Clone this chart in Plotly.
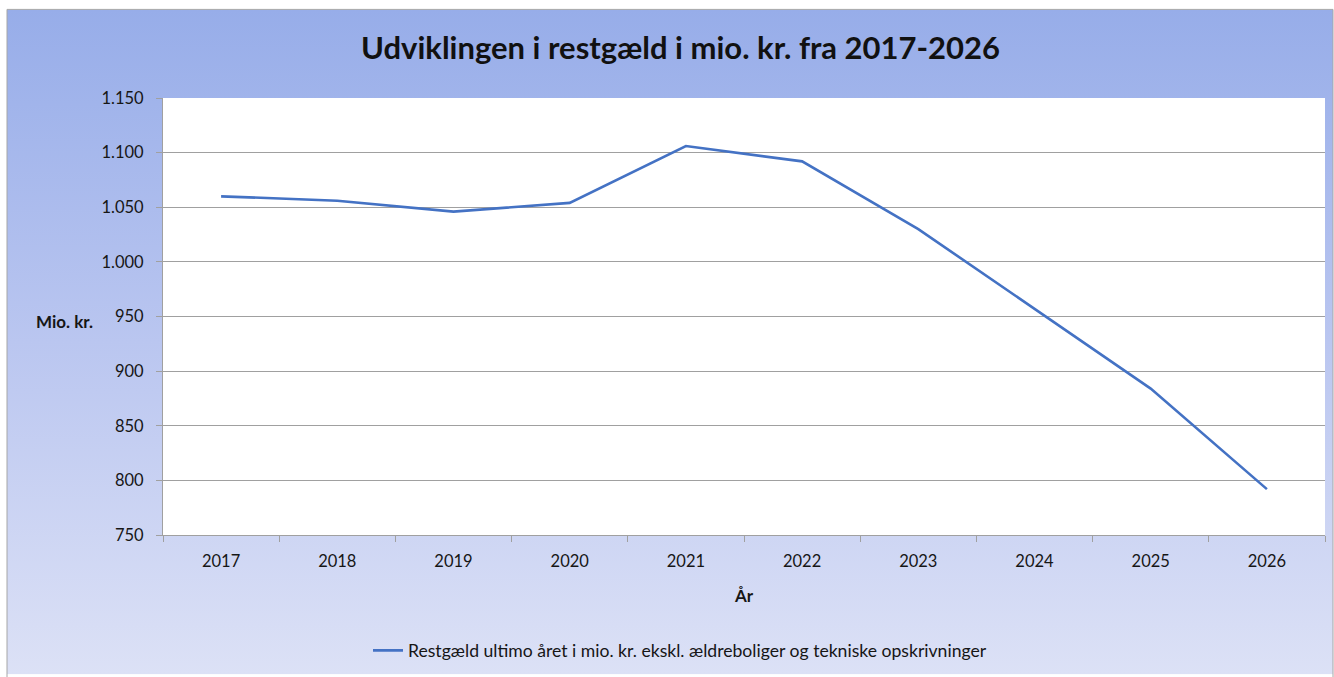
import base64
import plotly.graph_objects as go

years = ["2017", "2018", "2019", "2020", "2021", "2022", "2023", "2024", "2025", "2026"]
restgaeld = [1060, 1056, 1046, 1054, 1106, 1092, 1030, 957, 884, 792]
series_name = "Restgæld ultimo året i mio. kr. ekskl. ældreboliger og tekniske opskrivninger"
title_text = "Udviklingen i restgæld i mio. kr. fra 2017-2026"
y_ticks = [750, 800, 850, 900, 950, 1000, 1050, 1100, 1150]

W, H = 1334, 677
L, R, T, B = 163, 9, 98, 140
pw = W - L - R
ph = H - T - B

def px_x(px):
    return (px - L) / pw

def px_y(py):
    return (H - B - py) / ph

svg = (
    '<svg xmlns="http://www.w3.org/2000/svg" width="100" height="100" viewBox="0 0 100 100" preserveAspectRatio="none">'
    '<defs><linearGradient id="g" x1="0" y1="0" x2="0" y2="1">'
    '<stop offset="0" stop-color="#97ADE9"/>'
    '<stop offset="0.5" stop-color="#BAC6F0"/>'
    '<stop offset="1" stop-color="#DCE1F6"/>'
    '</linearGradient></defs>'
    '<rect x="0" y="0" width="100" height="100" fill="url(#g)"/>'
    '</svg>'
)
svg_uri = "data:image/svg+xml;base64," + base64.b64encode(svg.encode()).decode()

fig = go.Figure()
fig.add_trace(go.Scatter(
    x=years, y=restgaeld, mode="lines", name=series_name,
    line=dict(color="#4472C4", width=2.6),
))

font_fam = "Lato, 'Open Sans', sans-serif"
txt = "#161616"

fig.update_layout(
    width=W, height=H,
    margin=dict(l=L, r=R, t=T, b=B),
    paper_bgcolor="white",
    plot_bgcolor="white",
    separators=",.",
    font=dict(family=font_fam, size=16, color=txt),
    showlegend=True,
    legend=dict(
        orientation="h", x=px_x(680), xanchor="center", y=px_y(653), yanchor="middle",
        font=dict(size=17.6, color=txt), bgcolor="rgba(0,0,0,0)",
    ),
    images=[dict(
        source=svg_uri, xref="paper", yref="paper",
        x=px_x(7), y=px_y(9), sizex=(W - 1 - 7) / pw, sizey=(H - 9) / ph,
        xanchor="left", yanchor="top", sizing="stretch", layer="below",
    )],
    shapes=[
        dict(type="rect", xref="paper", yref="paper", x0=0, x1=1, y0=0, y1=1,
             fillcolor="white", line=dict(width=0), layer="below"),
        dict(type="rect", xref="paper", yref="paper", x0=px_x(7), x1=px_x(W - 1),
             y0=px_y(H + 6), y1=px_y(9), fillcolor="rgba(0,0,0,0)",
             line=dict(color="#A6A6A6", width=1), layer="above"),
    ],
    annotations=[
        dict(text="<b>" + title_text + "</b>", xref="paper", yref="paper",
             x=px_x(680), y=px_y(47), xanchor="center", yanchor="middle",
             showarrow=False, font=dict(size=31, color="#111111", family=font_fam)),
        dict(text="<b>Mio. kr.</b>", xref="paper", yref="paper",
             x=px_x(34), y=px_y(323), xanchor="left", yanchor="middle",
             showarrow=False, font=dict(size=17, color=txt)),
        dict(text="<b>År</b>", xref="paper", yref="paper",
             x=0.5, y=px_y(598), xanchor="center", yanchor="middle",
             showarrow=False, font=dict(size=17, color=txt)),
    ],
)

fig.update_xaxes(
    type="category", tickson="boundaries", ticks="outside", ticklen=6,
    tickcolor="#A0A0A0", showline=True, linecolor="#A0A0A0", linewidth=1,
    showgrid=False, zeroline=False, tickfont=dict(size=16.5, color=txt),
    range=[-0.5, len(years) - 0.5], ticklabelstandoff=11,
)
fig.update_yaxes(
    range=[750, 1150], tickvals=y_ticks, tickformat=",d",
    ticks="outside", ticklen=6, tickcolor="#A0A0A0",
    showline=True, linecolor="#A0A0A0", linewidth=1,
    showgrid=True, gridcolor="#A0A0A0", gridwidth=1, zeroline=False,
    tickfont=dict(size=16.5, color=txt), ticklabelstandoff=9,
)

fig.write_html(
    "out.html",
    config={"displayModeBar": False},
    post_script="document.body.style.margin='0';document.body.style.overflow='hidden';",
)
